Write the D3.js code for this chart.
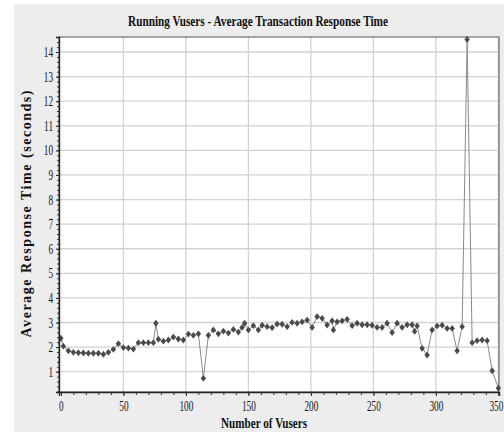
<!DOCTYPE html>
<html>
<head>
<meta charset="utf-8">
<script src="https://cdn.jsdelivr.net/npm/d3@7"></script>
<style>
  html, body { margin: 0; padding: 0; background: #ffffff; }
  svg { display: block; }
  text { font-family: "Liberation Serif", "Times New Roman", serif; fill: #111; }
</style>
</head>
<body>
<div id="chart"></div>
<script>
// Running vusers vs. average transaction response time
const vusers = [0, 2, 6, 10, 14, 18, 22, 26, 30, 34, 38, 42, 46, 50, 54, 58, 62, 66, 70, 74,
  76, 78, 82, 86, 90, 94, 98, 102, 106, 110, 114, 118, 122, 126, 130, 134, 138, 142, 145, 147,
  150, 154, 158, 161, 165, 169, 173, 177, 181, 185, 189, 193, 197, 201, 205, 209, 213, 217, 218, 221,
  225, 229, 233, 237, 241, 245, 249, 253, 257, 261, 265, 269, 273, 277, 281, 283, 285, 289, 293, 297,
  301, 305, 309, 313, 317, 321, 325, 329, 333, 337, 341, 345, 350];
const responseTime = [2.36, 2.04, 1.85, 1.79, 1.77, 1.76, 1.75, 1.75, 1.75, 1.71, 1.79, 1.91, 2.14, 1.98, 1.96, 1.92, 2.18, 2.18, 2.18, 2.18,
  2.97, 2.32, 2.24, 2.29, 2.41, 2.33, 2.29, 2.53, 2.48, 2.54, 0.73, 2.48, 2.70, 2.54, 2.65, 2.57, 2.72, 2.61, 2.80, 2.97,
  2.70, 2.87, 2.70, 2.89, 2.83, 2.79, 2.94, 2.93, 2.83, 3.01, 2.97, 3.03, 3.10, 2.80, 3.24, 3.17, 2.90, 3.07, 2.70, 3.03,
  3.07, 3.13, 2.87, 2.97, 2.91, 2.91, 2.89, 2.80, 2.80, 2.97, 2.59, 2.97, 2.80, 2.91, 2.91, 2.64, 2.86, 1.95, 1.68, 2.70,
  2.86, 2.89, 2.76, 2.76, 1.85, 2.83, 14.51, 2.18, 2.26, 2.29, 2.26, 1.04, 0.33];
const xTicks = [0, 50, 100, 150, 200, 250, 300, 350];
const yTicks = [1, 2, 3, 4, 5, 6, 7, 8, 9, 10, 11, 12, 13, 14];

const chartTitle = "Running Vusers - Average Transaction Response Time";
const xTitle = "Number of Vusers";
const yTitle = "Average Response Time (seconds)";

const W = 504, H = 432;
const plot = { left: 59, right: 499, top: 37, bottom: 392 };

const svg = d3.select("#chart").append("svg")
  .attr("width", W).attr("height", H);

// panel background
svg.append("rect").attr("x", 0).attr("y", 0).attr("width", W).attr("height", H).attr("fill", "#ffffff");
svg.append("rect").attr("x", 14).attr("y", 4).attr("width", W - 14).attr("height", H - 4).attr("fill", "#ededed");
svg.append("rect")
  .attr("x", plot.left).attr("y", plot.top)
  .attr("width", plot.right - plot.left).attr("height", plot.bottom - plot.top)
  .attr("fill", "#ffffff");

const x = d3.scaleLinear().domain([-1.5, 350.5]).range([plot.left, plot.right]);
const y = d3.scaleLinear().domain([0.175, 14.61]).range([plot.bottom, plot.top]);

// grid
const grid = svg.append("g").attr("stroke", "#d2d2d2").attr("stroke-width", 1.3);
grid.selectAll("line.v").data(xTicks.filter(d => d > 0)).join("line")
  .attr("x1", d => x(d)).attr("x2", d => x(d))
  .attr("y1", plot.top).attr("y2", plot.bottom);
grid.selectAll("line.h").data(yTicks).join("line")
  .attr("x1", plot.left).attr("x2", plot.right)
  .attr("y1", d => y(d)).attr("y2", d => y(d));

// plot frame
svg.append("rect")
  .attr("x", plot.left).attr("y", plot.top)
  .attr("width", plot.right - plot.left).attr("height", plot.bottom - plot.top)
  .attr("fill", "none").attr("stroke", "#555").attr("stroke-width", 1);

// series line
const pts = vusers.map((v, i) => [v, responseTime[i]]);
svg.append("path")
  .datum(pts)
  .attr("fill", "none")
  .attr("stroke", "#8a8a8a")
  .attr("stroke-width", 1)
  .attr("d", d3.line().x(d => x(d[0])).y(d => y(d[1])));

// diamond markers
const diamond = {
  draw(ctx, size) {
    const w = 2.7, h = 3.4;
    ctx.moveTo(0, -h); ctx.lineTo(w, 0); ctx.lineTo(0, h); ctx.lineTo(-w, 0); ctx.closePath();
  }
};
svg.append("g").selectAll("path").data(pts).join("path")
  .attr("transform", d => `translate(${x(d[0])},${y(d[1])})`)
  .attr("d", d3.symbol().type(diamond).size(30)())
  .attr("fill", "#4a4a4a");

// axes
const squeeze = 0.66;
const yAxis = svg.append("g").attr("transform", `translate(${plot.left},0)`)
  .call(d3.axisLeft(y).tickValues(yTicks).tickSize(3).tickPadding(3).tickFormat(d3.format("d")));
yAxis.select(".domain").attr("stroke", "#222").attr("stroke-width", 1.4);
yAxis.selectAll(".tick line").attr("stroke", "#222");
yAxis.selectAll(".tick text")
  .attr("font-size", 14)
  .attr("x", -6 / squeeze)
  .attr("transform", `scale(${squeeze},1)`);

const yMinor = svg.append("g").attr("transform", `translate(${plot.left},0)`)
  .call(d3.axisLeft(y).tickValues(d3.range(2, 146, 2).map(d => d / 10)).tickSize(2).tickFormat(""));
yMinor.select(".domain").remove();
yMinor.selectAll(".tick line").attr("stroke", "#333");

const xAxis = svg.append("g").attr("transform", `translate(0,${plot.bottom})`)
  .call(d3.axisBottom(x).tickValues(xTicks).tickSize(4).tickPadding(5).tickFormat(d3.format("d")));
xAxis.select(".domain").attr("stroke", "#222").attr("stroke-width", 1.4);
xAxis.selectAll(".tick line").attr("stroke", "#222");
xAxis.selectAll(".tick text")
  .attr("font-size", 14)
  .attr("x", d => (d === 350 ? -2.5 : 0) / squeeze)
  .attr("transform", `scale(${squeeze},1)`);

const xMinor = svg.append("g").attr("transform", `translate(0,${plot.bottom})`)
  .call(d3.axisBottom(x).tickValues(d3.range(10, 350, 10)).tickSize(3).tickFormat(""));
xMinor.select(".domain").remove();
xMinor.selectAll(".tick line").attr("stroke", "#333");

// titles
svg.append("text")
  .attr("x", 258).attr("y", 26)
  .attr("text-anchor", "middle")
  .attr("font-size", 14).attr("font-weight", "bold")
  .attr("textLength", 260).attr("lengthAdjust", "spacingAndGlyphs")
  .text(chartTitle);

svg.append("text")
  .attr("x", 264).attr("y", 428)
  .attr("text-anchor", "middle")
  .attr("font-size", 14).attr("font-weight", "bold")
  .attr("textLength", 86).attr("lengthAdjust", "spacingAndGlyphs")
  .text(xTitle);

svg.append("text")
  .attr("transform", "translate(30.5,214) rotate(-90)")
  .attr("text-anchor", "middle")
  .attr("font-size", 14).attr("font-weight", "bold")
  .attr("textLength", 247).attr("lengthAdjust", "spacing")
  .text(yTitle);
</script>
</body>
</html>
